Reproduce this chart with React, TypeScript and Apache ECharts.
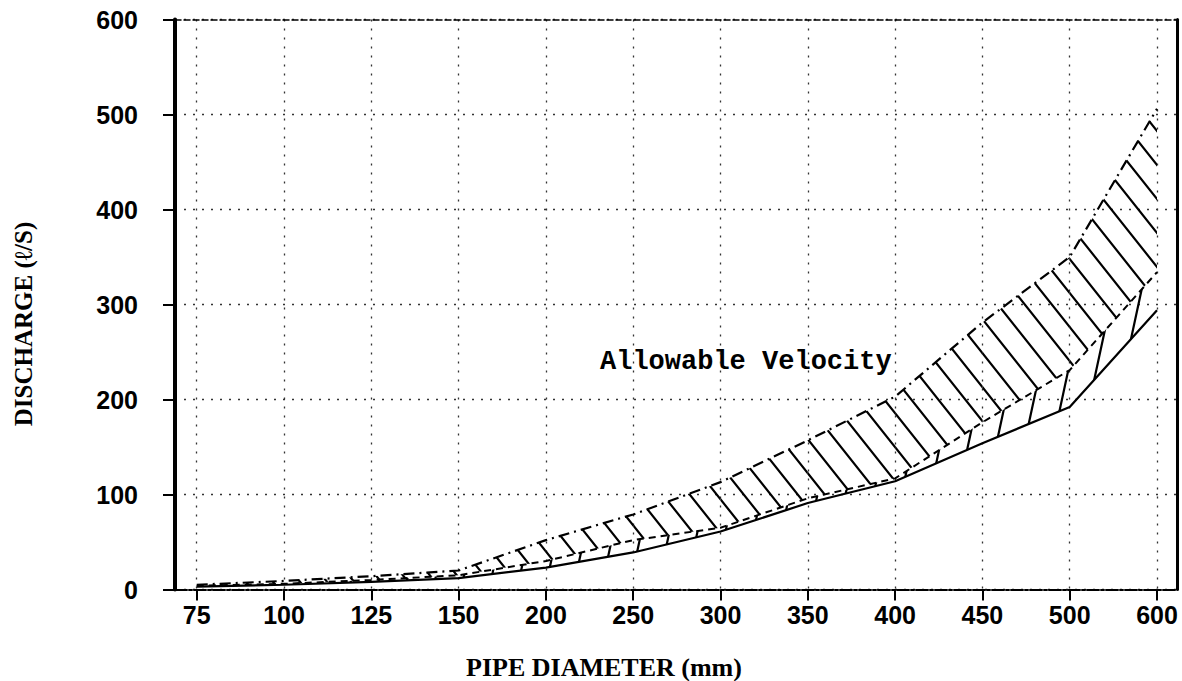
import React, { useEffect, useRef } from "react";
import * as echarts from "echarts";

// Pipe diameters (mm) – equally spaced categories on the x axis
const diameters = ["75", "100", "125", "150", "200", "250", "300", "350", "400", "450", "500", "600"];
// Discharge (l/s)
const upperQ = [5, 9, 14, 20, 52, 79, 113, 157, 203, 281, 350, 506]; // dash-dot
const middleQ = [4, 6, 10, 15, 30, 52, 65, 96, 117, 176, 231, 334]; // dashed
const lowerQ = [3, 5, 8, 12, 23, 39, 61, 91, 114, 154, 192, 294]; // solid
const yMin = 0;
const yMax = 600;
const yStep = 100;

const annotation = "Allowable Velocity";
const xTitle = "PIPE DIAMETER (mm)";
const yTitle = "DISCHARGE (\u2113/S)";

function makeHatch(w: number, h: number, forward: boolean): HTMLCanvasElement {
  const c = document.createElement("canvas");
  c.width = w;
  c.height = h;
  const ctx = c.getContext("2d")!;
  ctx.strokeStyle = "#000";
  ctx.lineWidth = 2.2;
  ctx.beginPath();
  for (const dx of [-w, 0, w]) {
    if (forward) {
      ctx.moveTo(dx + 2 * w, -h);
      ctx.lineTo(dx - w, 2 * h);
    } else {
      ctx.moveTo(dx - w, -h);
      ctx.lineTo(dx + 2 * w, 2 * h);
    }
  }
  ctx.stroke();
  return c;
}

export default function App() {
  const ref = useRef<HTMLDivElement>(null);

  useEffect(() => {
    if (!ref.current) return;
    const chart = echarts.init(ref.current, undefined, { renderer: "svg" });

    const idx = diameters.map((_, i) => i);
    const pts = (arr: number[]) => arr.map((v, i) => [i, v]);
    const bandData = idx.map((i) => [i, upperQ[i], middleQ[i], lowerQ[i]]);

    const backFill = { image: makeHatch(27, 34, false), repeat: "repeat" };
    const fwdFill = { image: makeHatch(28, 130, true), repeat: "repeat" };

    const labelFont = {
      fontFamily: '"Liberation Sans", Arial, sans-serif',
      fontWeight: "bold" as const,
      fontSize: 25,
      color: "#000",
    };
    const grid = { type: [2, 7], color: "#333", width: 1.3 };

    const option: any = {
      animation: false,
      backgroundColor: "#fff",
      grid: { left: 175, right: 5, top: 19.5, bottom: 91.5, containLabel: false },
      xAxis: [
        {
          type: "value",
          position: "bottom",
          min: -0.249,
          max: 11.229,
          axisLine: { show: true, onZero: false, lineStyle: { color: "#000", width: 2, type: [12, 2, 3, 2] } },
          axisTick: { show: true, length: 11, lineStyle: { color: "#000", width: 2 }, customValues: idx },
          axisLabel: {
            ...labelFont,
            margin: 13,
            customValues: idx,
            formatter: (v: number) => diameters[Math.round(v)] ?? "",
          },
          splitLine: { show: true, lineStyle: grid },
        },
        {
          type: "value",
          position: "top",
          min: -0.249,
          max: 11.229,
          axisLine: { show: true, onZero: false, lineStyle: { color: "#000", width: 1.5, type: [6, 3] } },
          axisTick: { show: false },
          axisLabel: { show: false },
          splitLine: { show: false },
        },
      ],
      yAxis: [
        {
          type: "value",
          position: "left",
          min: yMin,
          max: yMax,
          interval: yStep,
          axisLine: { show: true, onZero: false, lineStyle: { color: "#000", width: 4 } },
          axisTick: { show: true, length: 12, lineStyle: { color: "#000", width: 2 } },
          axisLabel: { ...labelFont, margin: 37 },
          splitLine: { show: true, lineStyle: grid },
        },
        {
          type: "value",
          position: "right",
          min: yMin,
          max: yMax,
          interval: yStep,
          axisLine: { show: true, onZero: false, lineStyle: { color: "#000", width: 3 } },
          axisTick: { show: false },
          axisLabel: { show: false },
          splitLine: { show: false },
        },
      ],
      series: [
        {
          type: "custom",
          silent: true,
          data: bandData,
          encode: { x: 0, y: [1, 2, 3] },
          z: 1,
          renderItem: (params: any, api: any) => {
            const i = params.dataIndex;
            if (i >= diameters.length - 1) return null;
            const u0 = api.coord([i, upperQ[i]]);
            const u1 = api.coord([i + 1, upperQ[i + 1]]);
            const m0 = api.coord([i, middleQ[i]]);
            const m1 = api.coord([i + 1, middleQ[i + 1]]);
            const l0 = api.coord([i, lowerQ[i]]);
            const l1 = api.coord([i + 1, lowerQ[i + 1]]);
            return {
              type: "group",
              children: [
                { type: "polygon", shape: { points: [u0, u1, m1, m0] }, style: { fill: backFill, stroke: null } },
                { type: "polygon", shape: { points: [m0, m1, l1, l0] }, style: { fill: fwdFill, stroke: null } },
              ],
            };
          },
        },
        {
          name: "upper",
          type: "line",
          data: pts(upperQ),
          symbol: "none",
          lineStyle: { color: "#000", width: 2.2, type: [11, 5, 2, 5] },
          z: 3,
        },
        {
          name: "middle",
          type: "line",
          data: pts(middleQ),
          symbol: "none",
          lineStyle: { color: "#000", width: 2, type: [7, 5] },
          z: 3,
        },
        {
          name: "lower",
          type: "line",
          data: pts(lowerQ),
          symbol: "none",
          lineStyle: { color: "#000", width: 2.2 },
          z: 3,
        },
      ],
      graphic: [
        {
          type: "text",
          left: 600,
          top: 348,
          style: {
            text: annotation,
            font: 'bold 27px "Liberation Mono", "DejaVu Sans Mono", monospace',
            fill: "#000",
          },
        },
        {
          type: "text",
          x: 604,
          y: 667,
          style: {
            text: xTitle,
            font: 'bold 26px "Liberation Serif", "DejaVu Serif", serif',
            fill: "#000",
            align: "center",
            verticalAlign: "middle",
          },
        },
        {
          type: "text",
          x: 23,
          y: 324,
          rotation: Math.PI / 2,
          style: {
            text: yTitle,
            font: 'bold 25px "Liberation Serif", "DejaVu Serif", serif',
            fill: "#000",
            align: "center",
            verticalAlign: "middle",
          },
        },
      ],
    };

    chart.setOption(option);
    return () => chart.dispose();
  }, []);

  return (
    <div
      ref={ref}
      style={{ position: "absolute", left: 0, top: 0, width: 1182, height: 681, background: "#fff" }}
    />
  );
}
